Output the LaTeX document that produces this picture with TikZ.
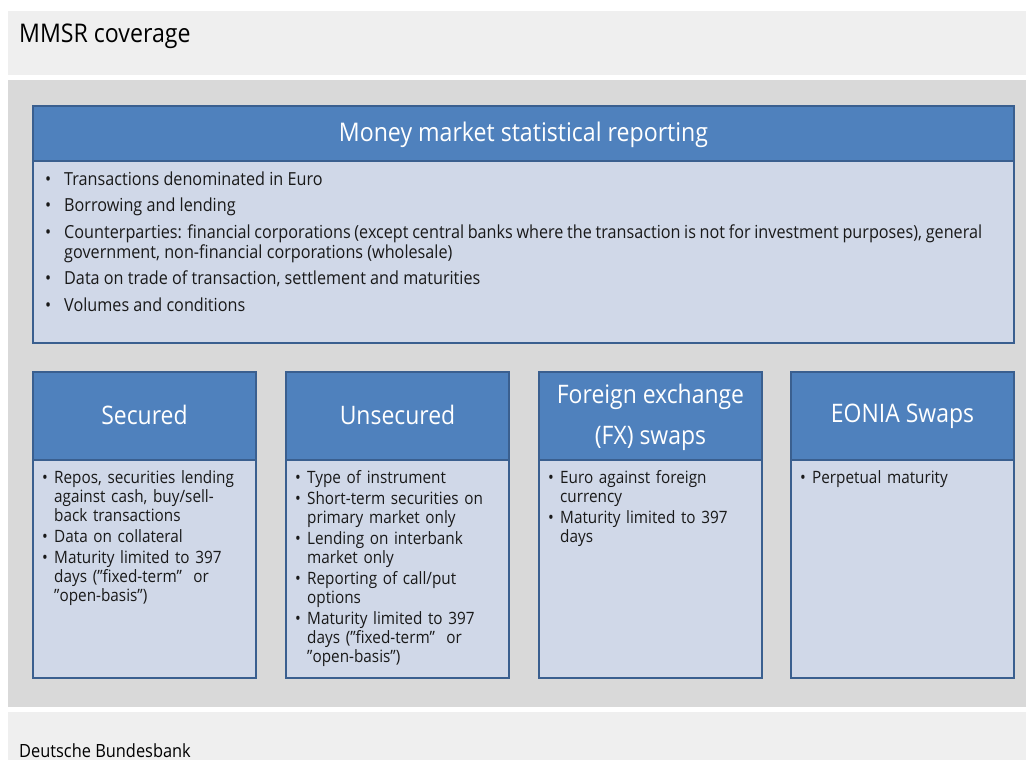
\documentclass[tikz,border=0pt]{standalone}
\usepackage{fontspec}
\setmainfont[FakeStretch=0.9]{Open Sans}
\definecolor{bandc}{HTML}{EFEFEF}
\definecolor{backc}{HTML}{D9D9D9}
\definecolor{hdrc}{HTML}{4F81BD}
\definecolor{bodyc}{HTML}{D0D8E8}
\definecolor{bordc}{HTML}{3A5F8F}
\newcommand{\itmA}[1]{\hangindent=19pt\hangafter=1\noindent\makebox[19pt][l]{\textbullet}#1\par}
\newcommand{\itmB}[1]{\hangindent=12pt\hangafter=1\noindent\makebox[12pt][l]{\textbullet}#1\par}
\tikzset{
  hdrbox/.style={draw=bordc, line width=2.2pt, fill=hdrc, anchor=north west, inner sep=0pt, outer sep=0pt},
  bodybox/.style={draw=bordc, line width=2.2pt, fill=bodyc, anchor=north west, inner sep=0pt, outer sep=0pt},
  hdrtext/.style={text=white, align=center, inner sep=0pt},
  toptext/.style={anchor=base west, inner sep=0pt, text width=937pt, align=justify,
    font=\fontsize{18}{20}\selectfont, text=black!90},
  smalltext/.style={anchor=base west, inner sep=0pt, text width=205pt, align=left,
    font=\fontsize{17}{19}\selectfont, text=black!90},
}
\begin{document}
\begin{tikzpicture}[x=1pt,y=-1pt]
\useasboundingbox (0,0) rectangle (1026,760);
\fill[white] (0,0) rectangle (1026,760);
\fill[bandc] (8,11) rectangle (1026,75);
\fill[backc] (8,80) rectangle (1026,707);
\fill[bandc] (8,712) rectangle (1026,760);
\node[anchor=base west, inner sep=0pt, font=\fontsize{25.7}{30}\selectfont] (title) at (19,43) {MMSR coverage};
\node[anchor=base west, inner sep=0pt, font=\fontsize{18.2}{20}\selectfont] (footer) at (19,757) {Deutsche Bundesbank};
% top box
\node[hdrbox, minimum width=981pt, minimum height=55pt] (tophdr) at (33,106) {};
\node[bodybox, minimum width=981pt, minimum height=182pt] (topbody) at (33,161) {};
\node[hdrtext, font=\fontsize{25.7}{30}\selectfont] (toptitle) at ([yshift=-1.5pt]tophdr.center) {Money market statistical reporting};
\node[toptext] (toplist) at (45,185) {\setlength{\parskip}{6.6pt}%
\itmA{Transactions denominated in Euro}%
\itmA{Borrowing and lending}%
\itmA{Counterparties: financial corporations (except central banks where the transaction is not for investment purposes), general\linebreak government, non-financial corporations (wholesale)}%
\itmA{Data on trade of transaction, settlement and maturities}%
\itmA{Volumes and conditions}};
% bottom boxes
\foreach \n/\x in {a/33, b/286, c/539, d/791}{
  \node[hdrbox, minimum width=223pt, minimum height=88pt] (hdr\n) at (\x,372) {};
  \node[bodybox, minimum width=223pt, minimum height=218pt] (body\n) at (\x,460) {};
}
\node[hdrtext, font=\fontsize{25.5}{41}\selectfont] (ta) at ([yshift=1pt]hdra.center) {Secured};
\node[hdrtext, font=\fontsize{25.5}{41}\selectfont] (tb) at ([yshift=1pt]hdrb.center) {Unsecured};
\node[hdrtext, font=\fontsize{25.5}{41}\selectfont] (tc) at ([yshift=-1pt]hdrc.center) {Foreign exchange\\(FX) swaps};
\node[hdrtext, font=\fontsize{25.5}{41}\selectfont] (td) at ([yshift=0pt]hdrd.center) {EONIA Swaps};
\node[smalltext] (la) at ([xshift=9pt]bodya.north west |- 0,483) {\setlength{\parskip}{2pt}%
\itmB{Repos, securities lending\newline against cash, buy/sell-\newline back transactions}%
\itmB{Data on collateral}%
\itmB{Maturity limited to 397\newline days (”fixed-term”\ \ or\newline ”open-basis”)}};
\node[smalltext] (lb) at ([xshift=9pt]bodyb.north west |- 0,483) {\setlength{\parskip}{2pt}%
\itmB{Type of instrument}%
\itmB{Short-term securities on\newline primary market only}%
\itmB{Lending on interbank\newline market only}%
\itmB{Reporting of call/put\newline options}%
\itmB{Maturity limited to 397\newline days (”fixed-term”\ \ or\newline ”open-basis”)}};
\node[smalltext] (lc) at ([xshift=9pt]bodyc.north west |- 0,483) {\setlength{\parskip}{2pt}%
\itmB{Euro against foreign\newline currency}%
\itmB{Maturity limited to 397\newline days}};
\node[smalltext] (ld) at ([xshift=9pt]bodyd.north west |- 0,483) {\setlength{\parskip}{2pt}%
\itmB{Perpetual maturity}};
\end{tikzpicture}
\end{document}
